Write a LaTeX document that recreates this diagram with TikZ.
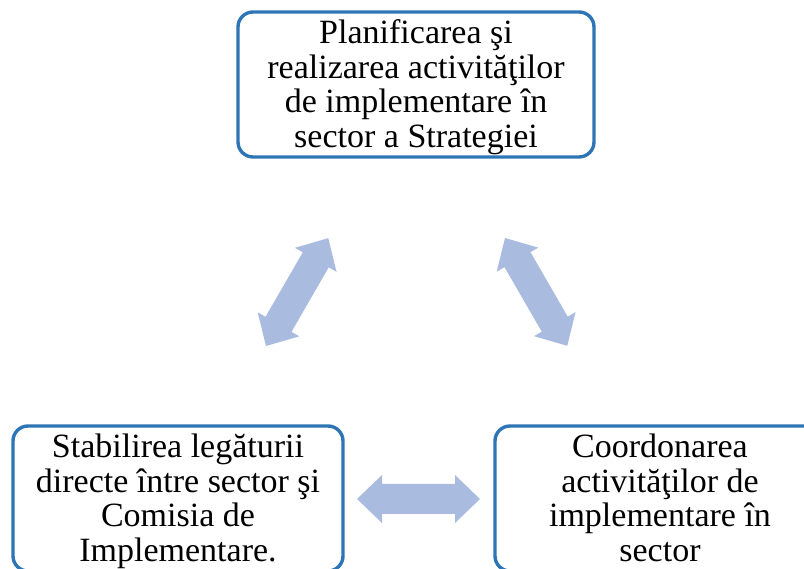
\documentclass[tikz,border=0pt]{standalone}
\usepackage{fontspec}
\setmainfont{Liberation Serif}
\definecolor{boxblue}{RGB}{46,117,182}
\definecolor{arrowfill}{RGB}{170,187,224}
\newcommand{\stagetext}[1]{\raisebox{-4pt}[\height][\depth]{\begin{tabular}{@{}c@{}}#1\end{tabular}}}
\tikzset{
  x=1pt,y=1pt,
  stagebox/.style={draw=boxblue, line width=3.4pt, rounded corners=15pt, fill=white,
    minimum width=#1, minimum height=145pt, inner sep=0pt, align=center,
    font=\fontsize{34}{34.5}\selectfont},
  pics/dblarrow/.style={code={
    \fill[arrowfill] (0,0) -- (25,24) -- (25,15) -- (#1-25,15) -- (#1-25,24) -- (#1,0)
      -- (#1-25,-24) -- (#1-25,-15) -- (25,-15) -- (25,-24) -- cycle;
  }}
}
\begin{document}
\begin{tikzpicture}
\useasboundingbox (0,0) rectangle (804,569);
\node[stagebox=356pt] (top) at (416,484.5) {\stagetext{Planificarea şi\\realizarea activităţilor\\de implementare în\\sector a Strategiei}};
\node[stagebox=330pt] (left) at (178,70.5) {\stagetext{Stabilirea legăturii\\directe între sector şi\\Comisia de\\Implementare.}};
\node[stagebox=330pt] (right) at (660,70.5) {\stagetext{Coordonarea\\activităţilor de\\implementare în\\sector}};
\coordinate (la) at (266,223);
\coordinate (ra) at (505,331);
\coordinate (ha) at (357,70);
\pic[rotate=60] at (la) {dblarrow=124.5};
\pic[rotate=-60] at (ra) {dblarrow=124.5};
\pic at (ha) {dblarrow=123};
\end{tikzpicture}
\end{document}
